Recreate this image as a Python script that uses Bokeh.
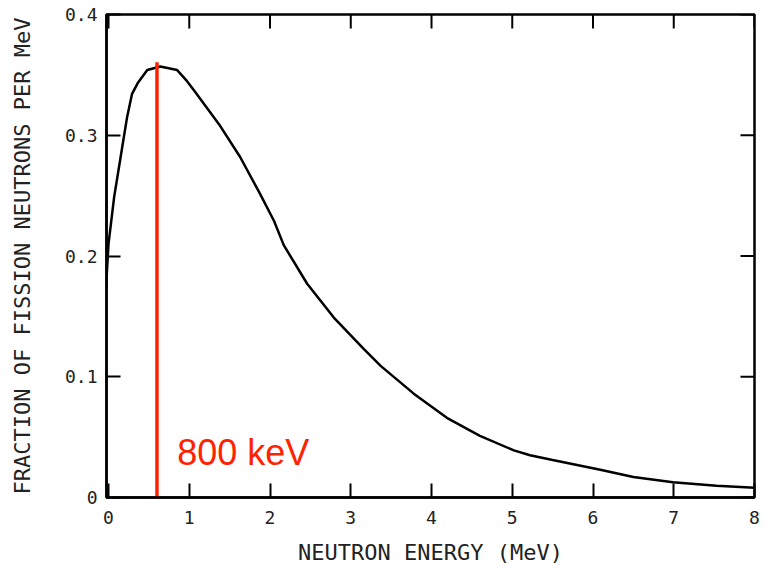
import math
from bokeh.plotting import figure
from bokeh.models import Range1d, FixedTicker, Label
from bokeh.embed import file_html
from bokeh.resources import INLINE

# Data
energy_mev = [-0.03, 0.0, 0.07, 0.15, 0.23, 0.29, 0.36, 0.48, 0.64, 0.85, 0.97, 1.06,
              1.37, 1.63, 1.88, 2.05, 2.17, 2.46, 2.79, 3.16, 3.37, 3.78, 4.19, 4.60,
              5.02, 5.22, 5.5, 6.09, 6.50, 6.99, 7.53, 8.0]
fraction = [0.175, 0.210, 0.249, 0.282, 0.315, 0.334, 0.343, 0.354, 0.357, 0.354, 0.345, 0.337,
            0.309, 0.282, 0.251, 0.229, 0.209, 0.177, 0.149, 0.123, 0.109, 0.086, 0.066, 0.051,
            0.039, 0.035, 0.031, 0.023, 0.017, 0.0127, 0.0097, 0.008]

marker_energy = [0.60, 0.60]
marker_fraction = [0.0, 0.3605]
marker_label = "800 keV"
marker_label_pos = (0.85, 0.037)

x_ticks = [0, 1, 2, 3, 4, 5, 6, 7, 8]
y_ticks = [0.0, 0.1, 0.2, 0.3, 0.4]
y_tick_labels = ["0", "0.1", "0.2", "0.3", "0.4"]

x_title = "NEUTRON ENERGY (MeV)"
y_title = "FRACTION OF FISSION NEUTRONS PER MeV"

X_MIN, X_MAX = -0.025, 8.0
Y_MIN, Y_MAX = 0.0, 0.4

TICK_FONT = "DejaVu Sans Mono"
INK = "#222222"
TICK_LEN = 14

p = figure(width=766, height=568, output_backend="svg", toolbar_location=None,
           x_range=Range1d(X_MIN, X_MAX), y_range=Range1d(Y_MIN, Y_MAX),
           min_border_left=106, min_border_right=12, min_border_top=14, min_border_bottom=71,
           background_fill_color="white", border_fill_color="white")
p.grid.visible = False
p.outline_line_color = "black"
p.outline_line_width = 2.5

xa = p.xaxis[0]
ya = p.yaxis[0]
for ax in (xa, ya):
    ax.axis_line_color = "black"
    ax.axis_line_width = 2.5
    ax.major_tick_in = TICK_LEN
    ax.major_tick_out = 0
    ax.major_tick_line_color = "black"
    ax.major_tick_line_width = 2
    ax.minor_tick_line_color = None
    ax.major_label_text_font = TICK_FONT
    ax.major_label_text_font_size = "18px"
    ax.major_label_text_color = INK
    ax.axis_label_text_font = TICK_FONT
    ax.axis_label_text_font_size = "22px"
    ax.axis_label_text_font_style = "normal"
    ax.axis_label_text_color = INK

xa.ticker = FixedTicker(ticks=x_ticks)
ya.ticker = FixedTicker(ticks=y_ticks)
ya.major_label_overrides = {t: l for t, l in zip(y_ticks, y_tick_labels)}
xa.major_label_standoff = 13
ya.major_label_standoff = 9
xa.axis_label = x_title
ya.axis_label = y_title
xa.axis_label_standoff = 13
ya.axis_label_standoff = 27

# Inward ticks on the top and right frame edges (mirroring the axis ticks)
p.ray(x=x_ticks, y=[Y_MAX] * len(x_ticks), length=TICK_LEN, length_units="screen",
      angle=-math.pi / 2, line_color="black", line_width=2)
p.ray(x=[X_MAX] * len(y_ticks), y=y_ticks, length=TICK_LEN, length_units="screen",
      angle=math.pi, line_color="black", line_width=2)

p.line(energy_mev, fraction, line_color="black", line_width=2.5)
p.line(marker_energy, marker_fraction, line_color="#ff2200", line_width=3.5)

p.add_layout(Label(x=marker_label_pos[0], y=marker_label_pos[1], text=marker_label,
                   text_font="Liberation Sans", text_font_size="36px",
                   text_color="#ff2200", text_align="left", text_baseline="alphabetic"))

open("out.html", "w").write(file_html(p, INLINE))
